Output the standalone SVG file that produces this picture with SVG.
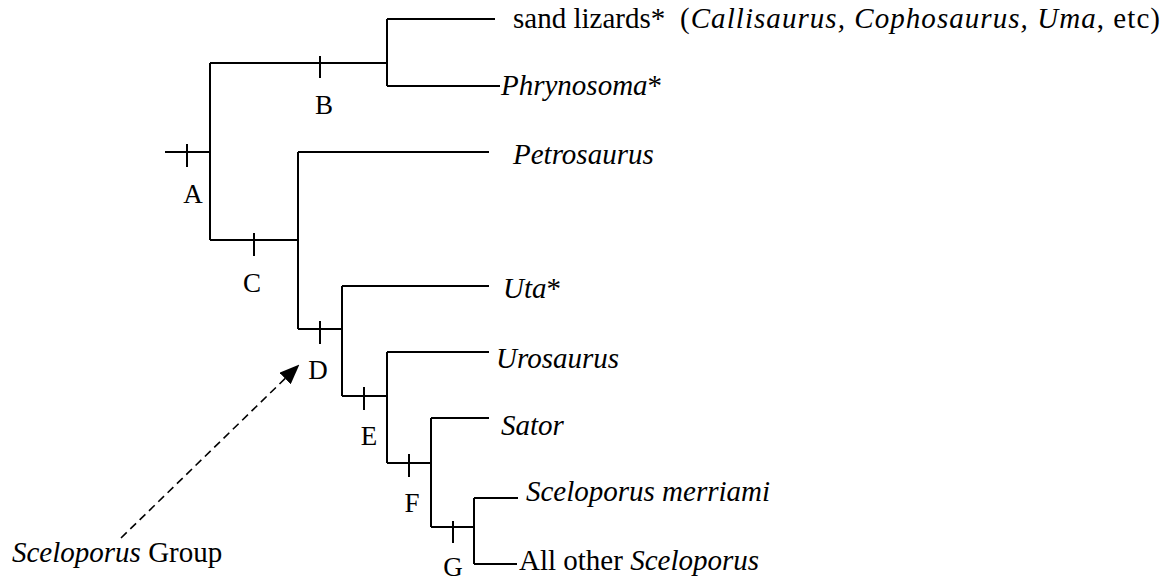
<svg xmlns="http://www.w3.org/2000/svg" width="1175" height="580" viewBox="0 0 1175 580">
  <style>
    .br { fill: none; stroke: #000; stroke-width: 2; stroke-linecap: butt; }
    .tick { stroke: #000; stroke-width: 2; }
    .lbl { font-family: 'Liberation Serif', 'DejaVu Serif', serif; font-size: 27px; fill: #000; text-anchor: middle; }
    .taxon { font-family: 'Liberation Serif', 'DejaVu Serif', serif; font-size: 29px; fill: #000; }
    .it { font-style: italic; }
    .dash { fill: none; stroke: #000; stroke-width: 1.6; stroke-dasharray: 8 5; }
  </style>
  <defs>
    <marker id="arrowhead" viewBox="0 0 10 10" refX="9" refY="5" markerWidth="20" markerHeight="16" markerUnits="userSpaceOnUse" orient="auto" preserveAspectRatio="none">
      <path d="M0,0 L10,5 L0,10 Z" fill="#000"/>
    </marker>
  </defs>

  <!-- tree branches -->
  <g id="connectors">
    <path class="br" d="M165,152 H210 M210,63 V240"/>
    <path class="br" d="M210,63 H387 M387,19 V86 M387,19 H495 M387,86 H500"/>
    <path class="br" d="M210,240 H298 M298,152 V329 M298,152 H489"/>
    <path class="br" d="M298,329 H342 M342,286 V396 M342,286 H489"/>
    <path class="br" d="M342,396 H387 M387,352 V463 M387,352 H489"/>
    <path class="br" d="M387,463 H431 M431,418 V527 M431,418 H489"/>
    <path class="br" d="M431,527 H474 M474,498 V564 M474,498 H518 M474,564 H517"/>
    <path class="dash" d="M121,538 L298,366" marker-end="url(#arrowhead)"/>
  </g>

  <!-- clade marks -->
  <g id="node-A"><line class="tick" x1="187" y1="144" x2="187" y2="167"/><text class="lbl" x="193" y="203" font-family="Liberation Serif, DejaVu Serif, serif">A</text></g>
  <g id="node-B"><line class="tick" x1="320" y1="56" x2="320" y2="78"/><text class="lbl" x="324" y="114" font-family="Liberation Serif, DejaVu Serif, serif">B</text></g>
  <g id="node-C"><line class="tick" x1="254" y1="233" x2="254" y2="256"/><text class="lbl" x="252" y="292" font-family="Liberation Serif, DejaVu Serif, serif">C</text></g>
  <g id="node-D"><line class="tick" x1="320" y1="321" x2="320" y2="344"/><text class="lbl" x="318" y="379" font-family="Liberation Serif, DejaVu Serif, serif">D</text></g>
  <g id="node-E"><line class="tick" x1="364" y1="387" x2="364" y2="410"/><text class="lbl" x="369" y="445" font-family="Liberation Serif, DejaVu Serif, serif">E</text></g>
  <g id="node-F"><line class="tick" x1="409" y1="454" x2="409" y2="477"/><text class="lbl" x="412" y="512" font-family="Liberation Serif, DejaVu Serif, serif">F</text></g>
  <g id="node-G"><line class="tick" x1="453" y1="521" x2="453" y2="543"/><text class="lbl" x="453" y="576" font-family="Liberation Serif, DejaVu Serif, serif">G</text></g>

  <!-- taxa -->
  <g id="taxon-sand-lizards">
    <text class="taxon" x="513" y="28" font-family="Liberation Serif, DejaVu Serif, serif">sand lizards*</text>
    <text class="taxon" x="680" y="28" font-size="30" textLength="480" lengthAdjust="spacing" font-family="Liberation Serif, DejaVu Serif, serif">(<tspan class="it">Callisaurus, Cophosaurus, Uma</tspan>, etc)</text>
  </g>
  <g id="taxon-phrynosoma"><text class="taxon" x="501" y="95" font-family="Liberation Serif, DejaVu Serif, serif"><tspan class="it">Phrynosoma</tspan>*</text></g>
  <g id="taxon-petrosaurus"><text class="taxon it" x="513" y="164" font-family="Liberation Serif, DejaVu Serif, serif">Petrosaurus</text></g>
  <g id="taxon-uta"><text class="taxon" x="503" y="298" font-family="Liberation Serif, DejaVu Serif, serif"><tspan class="it">Uta</tspan>*</text></g>
  <g id="taxon-urosaurus"><text class="taxon it" x="496" y="368" font-family="Liberation Serif, DejaVu Serif, serif">Urosaurus</text></g>
  <g id="taxon-sator"><text class="taxon it" x="501" y="435" font-family="Liberation Serif, DejaVu Serif, serif">Sator</text></g>
  <g id="taxon-merriami"><text class="taxon it" x="526" y="501" font-family="Liberation Serif, DejaVu Serif, serif">Sceloporus merriami</text></g>
  <g id="taxon-other"><text class="taxon" x="519" y="570" font-family="Liberation Serif, DejaVu Serif, serif">All other <tspan class="it">Sceloporus</tspan></text></g>
  <g id="group-label"><text class="taxon" x="12" y="562" font-family="Liberation Serif, DejaVu Serif, serif"><tspan class="it">Sceloporus</tspan> Group</text></g>
</svg>
